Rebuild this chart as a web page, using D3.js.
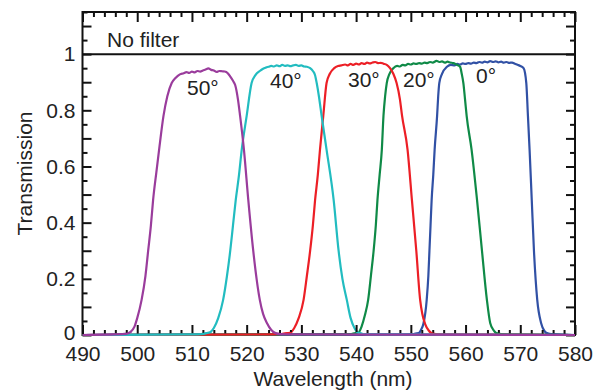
<!DOCTYPE html>
<html><head><meta charset="utf-8">
<script src="https://cdn.jsdelivr.net/npm/d3@7"></script>
<style>
body{margin:0;background:#fff;}
svg{display:block;font-family:"Liberation Sans",Arial,Helvetica,sans-serif;}
</style></head>
<body><svg id="chart" width="602" height="391"></svg>
<script>
// ---- data ----
const xMajorTicks = [490,500,510,520,530,540,550,560,570,580];
const yLabelTicks = [0,0.2,0.4,0.6,0.8,1];
const seriesNames = ["0°","20°","30°","40°","50°"];
const seriesColors = ["#3151a5","#0f8a47","#ec1f26","#22bcc0","#9a3c9c"];

const wl0 = [490,549,551.4,551.9,552.3,552.9,553.2,553.4,553.6,553.8,554.1,554.35,554.8,555,555.2,555.7,556.6,557.3,558,558.5,559,559.5,560,560.5,561,561.5,562,562.5,563,563.5,564,564.5,565,565.5,566,566.5,567,567.5,568,568.5,569,569.5,570,570.6,571.1,571.4,571.7,572.1,572.5,573.1,573.8,574.4,575.2,577,580];
const tr0 = [0,0.001,0.006,0.02,0.04,0.125,0.21,0.30,0.39,0.48,0.57,0.66,0.78,0.85,0.897,0.93,0.955,0.962,0.96,0.965,0.963,0.967,0.965,0.968,0.966,0.97,0.968,0.972,0.97,0.973,0.971,0.975,0.972,0.974,0.971,0.973,0.97,0.972,0.969,0.97,0.966,0.962,0.958,0.95,0.897,0.78,0.66,0.48,0.30,0.125,0.043,0.015,0.004,0.001,0];

const wl20 = [490,538,540.4,541,541.6,542.2,542.7,543.2,543.6,543.9,544.3,544.7,545,545.3,545.6,546.1,546.8,547.5,548,548.5,549,549.5,550,550.5,551,551.5,552,552.5,553,553.5,554,554.7,555.2,555.7,556.2,556.7,557.2,557.8,558.4,559,559.3,559.6,559.9,560.2,561.1,562.1,563,563.9,564.5,565.2,566,568,580];
const tr20 = [0,0.002,0.008,0.03,0.07,0.125,0.21,0.30,0.39,0.48,0.57,0.66,0.78,0.85,0.897,0.93,0.95,0.958,0.956,0.962,0.96,0.965,0.963,0.967,0.965,0.968,0.966,0.97,0.968,0.972,0.97,0.976,0.972,0.974,0.97,0.973,0.97,0.968,0.962,0.955,0.93,0.897,0.84,0.78,0.66,0.48,0.30,0.125,0.043,0.015,0.004,0.001,0];

const wl30 = [490,525,527.9,528.7,529.5,530.4,531,531.6,532.1,532.5,533,533.4,534,534.6,535.2,536,536.7,537.3,538,538.5,539,539.5,540,540.5,541,541.5,542,542.5,543,543.5,544,544.5,545,545.6,546.2,546.8,547.4,548,548.4,549.4,550.2,551,551.7,552.1,552.6,553.3,554.1,556,580];
const tr30 = [0,0.002,0.008,0.025,0.06,0.125,0.21,0.30,0.39,0.48,0.57,0.66,0.78,0.897,0.93,0.95,0.958,0.96,0.963,0.96,0.965,0.962,0.966,0.963,0.968,0.965,0.97,0.967,0.97,0.972,0.968,0.969,0.966,0.962,0.95,0.93,0.897,0.84,0.78,0.66,0.48,0.30,0.125,0.075,0.04,0.015,0.004,0.001,0];

const wl40 = [490,511,513.3,514,514.8,515.7,516.4,517,517.5,518,518.6,519.1,520,520.9,521.6,522.4,523,523.5,524,524.5,525,525.5,526,526.5,527,527.5,528,528.5,529,529.5,530,530.5,531,531.6,532.1,532.5,532.8,533.2,533.7,534.6,535.9,536.8,537.5,538.3,539,539.7,540.4,542,580];
const tr40 = [0,0.002,0.01,0.025,0.06,0.125,0.21,0.30,0.39,0.48,0.57,0.66,0.78,0.897,0.925,0.94,0.948,0.952,0.955,0.958,0.956,0.96,0.957,0.962,0.958,0.96,0.957,0.96,0.962,0.958,0.96,0.956,0.955,0.95,0.94,0.925,0.897,0.85,0.78,0.66,0.48,0.30,0.2,0.125,0.06,0.025,0.008,0.002,0];

const wl50 = [490,496,498,498.7,499.5,500,500.8,501.5,502,502.5,502.9,503.5,504,504.8,505.5,506.3,507,507.8,508.5,509,509.5,510,510.5,511,511.5,512,512.5,513,513.5,514,514.5,515,515.5,516,516.5,517,517.5,517.9,518.4,518.8,519.5,520.3,521.2,522.4,523,523.7,524.5,525.5,527,580];
const tr50 = [0,0.002,0.004,0.01,0.03,0.06,0.125,0.21,0.30,0.39,0.48,0.58,0.66,0.78,0.85,0.897,0.915,0.928,0.932,0.936,0.933,0.938,0.935,0.94,0.938,0.942,0.945,0.949,0.944,0.942,0.937,0.94,0.939,0.938,0.933,0.92,0.905,0.89,0.84,0.78,0.66,0.48,0.30,0.125,0.075,0.043,0.018,0.005,0.002,0];

const wavelengths = [wl0, wl20, wl30, wl40, wl50];
const transmissions = [tr0, tr20, tr30, tr40, tr50];
const noFilterValue = 1;
const labelText = ["0°","20°","30°","40°","50°"];

// ---- layout ----
const svg = d3.select("#chart");
const L = 82.5, R = 575, T = 12, B = 335;
const x = d3.scaleLinear().domain([490,580]).range([L,R]);
const y = d3.scaleLinear().domain([0,1.15]).range([B,T]);
const fs = 21;

const xMinor = d3.range(490,581,2).filter(v => v % 10 !== 0);
const yMajor = d3.range(0,1.151,0.1).map(v => +v.toFixed(2));
const yMinor = d3.range(0.05,1.151,0.1).map(v => +v.toFixed(2));

svg.append("defs").append("clipPath").attr("id","bottomClip")
  .append("rect").attr("x",L).attr("y",B-3).attr("width",R-L).attr("height",4);

// no-filter line
svg.append("line").attr("x1",L).attr("x2",R).attr("y1",y(noFilterValue)).attr("y2",y(noFilterValue))
  .attr("stroke","#111").attr("stroke-width",2);

// curves
const line = d3.line().x(d => x(d[0])).y(d => y(d[1])).curve(d3.curveMonotoneX);
wavelengths.forEach((wl,i) => {
  const pts = wl.map((w,j) => [w, transmissions[i][j]]);
  svg.append("path").datum(pts).attr("d",line).attr("fill","none")
    .attr("stroke",seriesColors[i]).attr("stroke-width",2.2).attr("stroke-linejoin","round");
});

// axes
function styleAxis(g){
  g.select(".domain").remove();
  g.selectAll(".tick line").attr("stroke","#111").attr("stroke-width",2);
  g.selectAll(".tick text").attr("fill","#222").style("font-size",fs+"px").style("font-family","'Liberation Sans',Arial,sans-serif");
}
svg.append("g").attr("transform",`translate(0,${B})`)
  .call(d3.axisBottom(x).tickValues(xMajorTicks).tickSizeInner(-10).tickSizeOuter(0).tickPadding(11.5).tickFormat(d3.format("d")))
  .call(styleAxis);
svg.append("g").attr("transform",`translate(0,${B})`)
  .call(d3.axisBottom(x).tickValues(xMinor).tickSizeInner(-5).tickSizeOuter(0).tickFormat(""))
  .call(styleAxis);
svg.append("g").attr("transform",`translate(0,${T})`)
  .call(d3.axisTop(x).tickValues(xMajorTicks).tickSizeInner(-10).tickSizeOuter(0).tickFormat(""))
  .call(styleAxis);
svg.append("g").attr("transform",`translate(0,${T})`)
  .call(d3.axisTop(x).tickValues(xMinor).tickSizeInner(-5).tickSizeOuter(0).tickFormat(""))
  .call(styleAxis);

const yAxisG = svg.append("g").attr("transform",`translate(${L},0)`)
  .call(d3.axisLeft(y).tickValues(yMajor).tickSizeInner(-9).tickSizeOuter(0).tickPadding(7)
    .tickFormat(d => yLabelTicks.some(v => Math.abs(v-d)<1e-6) ? d3.format("")(d) : ""))
  .call(styleAxis);
// nudge the "0" label up slightly so it does not collide with "490"
yAxisG.selectAll(".tick").filter(d => d === 0).select("text").attr("dy","0.2em");

svg.append("g").attr("transform",`translate(${L},0)`)
  .call(d3.axisLeft(y).tickValues(yMinor).tickSizeInner(-5).tickSizeOuter(0).tickFormat(""))
  .call(styleAxis);
svg.append("g").attr("transform",`translate(${R},0)`)
  .call(d3.axisRight(y).tickValues(yMajor).tickSizeInner(-9).tickSizeOuter(0).tickFormat(""))
  .call(styleAxis);
svg.append("g").attr("transform",`translate(${R},0)`)
  .call(d3.axisRight(y).tickValues(yMinor).tickSizeInner(-5).tickSizeOuter(0).tickFormat(""))
  .call(styleAxis);

// frame
svg.append("rect").attr("x",L).attr("y",T).attr("width",R-L).attr("height",B-T)
  .attr("fill","none").attr("stroke","#111").attr("stroke-width",2);

// redraw curve baselines over the bottom frame edge
wavelengths.forEach((wl,i) => {
  const pts = wl.map((w,j) => [w, transmissions[i][j]]);
  svg.append("path").datum(pts).attr("d",line).attr("fill","none")
    .attr("stroke",seriesColors[i]).attr("stroke-width",2.2)
    .attr("clip-path","url(#bottomClip)");
});

// labels
svg.append("text").attr("x",107).attr("y",46.5).attr("fill","#222").style("font-size",fs+"px").text("No filter");
const lblPx = [[476,83],[403,87],[348,87],[270,88],[187,95]];
labelText.forEach((t,i) => {
  svg.append("text").attr("x",lblPx[i][0]).attr("y",lblPx[i][1]).attr("fill","#222").style("font-size",fs+"px").text(t);
});

// axis titles
svg.append("text").attr("x",333).attr("y",386).attr("text-anchor","middle").attr("fill","#222")
  .style("font-size",fs+"px").text("Wavelength (nm)");
svg.append("text").attr("transform",`translate(32,${(T+B)/2}) rotate(-90)`).attr("text-anchor","middle").attr("fill","#222")
  .style("font-size",fs+"px").text("Transmission");
</script></body></html>
